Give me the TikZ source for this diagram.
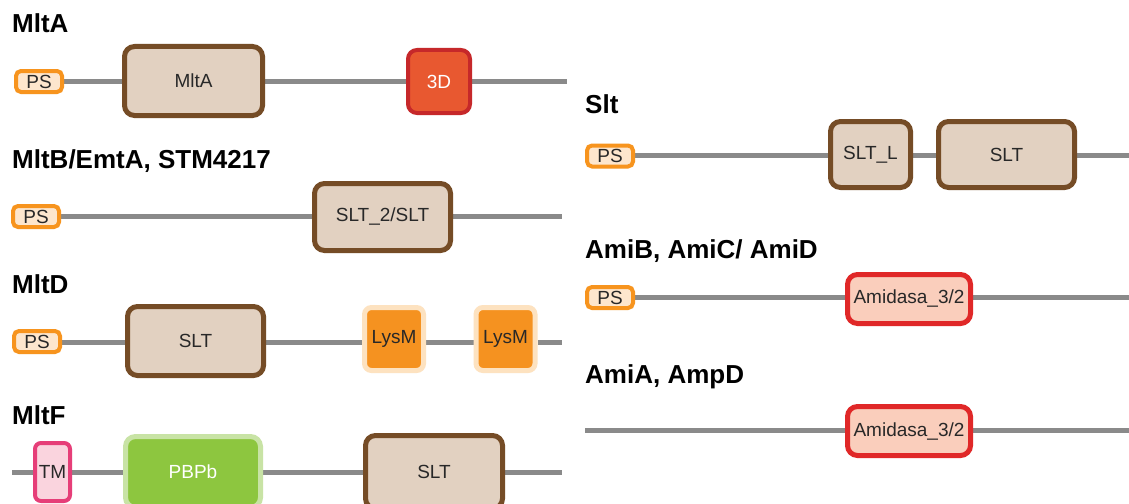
\documentclass[tikz,border=0pt]{standalone}
\usepackage{fontspec}
\setmainfont{Liberation Sans}
\usetikzlibrary{backgrounds}
\definecolor{chain}{RGB}{138,138,138}
\definecolor{psedge}{RGB}{247,148,30}
\definecolor{psfill}{RGB}{253,230,205}
\definecolor{sltedge}{RGB}{117,76,38}
\definecolor{sltfill}{RGB}{226,209,193}
\definecolor{tdfill}{RGB}{232,88,48}
\definecolor{tdedge}{RGB}{198,40,42}
\definecolor{lysfill}{RGB}{245,146,32}
\definecolor{lyshalo}{RGB}{253,226,192}
\definecolor{tmfill}{RGB}{250,212,222}
\definecolor{tmedge}{RGB}{230,62,120}
\definecolor{pbpfill}{RGB}{141,198,63}
\definecolor{pbpedge}{RGB}{200,227,165}
\definecolor{amifill}{RGB}{250,206,188}
\definecolor{amiedge}{RGB}{224,40,40}
\definecolor{labeltext}{RGB}{40,40,40}
\tikzset{
  dom/.style={rectangle, inner sep=0pt, align=center, text=labeltext,
    font=\fontsize{19}{21}\selectfont},
  psbox/.style={dom, draw=psedge, fill=psfill, line width=4pt, rounded corners=5pt,
    minimum width=46pt, minimum height=21pt},
  sltbox/.style={dom, draw=sltedge, fill=sltfill, line width=5pt, rounded corners=10pt},
  tdbox/.style={dom, draw=tdedge, fill=tdfill, line width=4pt, rounded corners=9pt, text=white},
  lysbox/.style={dom, draw=lyshalo, fill=lysfill, line width=5pt, rounded corners=7pt,
    minimum width=59pt, minimum height=63pt},
  tmbox/.style={dom, draw=tmedge, fill=tmfill, line width=4pt, rounded corners=6pt},
  pbpbox/.style={dom, draw=pbpedge, fill=pbpfill, line width=5pt, rounded corners=10pt, text=white},
  amibox/.style={dom, draw=amiedge, fill=amifill, line width=5pt, rounded corners=10pt,
    minimum width=123pt, minimum height=49pt},
  protname/.style={anchor=base west, inner sep=0pt, text=black,
    font=\fontsize{26}{28}\selectfont\bfseries},
  link/.style={draw=chain, line width=5pt}
}
\begin{document}
\begin{tikzpicture}[x=1pt, y=-1pt]
\useasboundingbox (0,0) rectangle (1129,503);
\clip (0,0) rectangle (1129,503);

% ---------- MltA ----------
\node[protname] (tA) at (12,33) {MltA};
\node[psbox] (psA) at (39,81.5) {PS};
\node[sltbox, minimum width=138pt, minimum height=69pt] (mltA) at (193.5,81) {MltA};
\node[tdbox, minimum width=62pt, minimum height=63pt] (tdA) at (439,81.5) {3D};
\coordinate (eA) at (567,81);

% ---------- MltB/EmtA ----------
\node[protname] (tB) at (12,168) {MltB/EmtA, STM4217};
\node[psbox] (psB) at (36,216.5) {PS};
\node[sltbox, minimum width=136pt, minimum height=67pt] (sltB) at (382.5,217) {SLT\_2/SLT};
\coordinate (eB) at (562,216);

% ---------- MltD ----------
\node[protname] (tD) at (12,293) {MltD};
\node[psbox] (psD) at (37,341.5) {PS};
\node[sltbox, minimum width=136pt, minimum height=69pt] (sltD) at (195.5,341) {SLT};
\node[lysbox] (lysD1) at (394,339) {LysM};
\node[lysbox] (lysD2) at (505.5,339) {LysM};
\coordinate (eD) at (562,342);

% ---------- MltF ----------
\node[protname] (tF) at (12,424) {MltF};
\coordinate (sF) at (12,472);
\node[tmbox, minimum width=35pt, minimum height=58pt] (tmF) at (52.5,472) {TM};
\node[pbpbox, minimum width=135pt, minimum height=71pt] (pbpF) at (193,472) {PBPb};
\node[sltbox, minimum width=137pt, minimum height=73pt] (sltF) at (434,472) {SLT};
\coordinate (eF) at (562,472);

% ---------- Slt ----------
\node[protname] (tS) at (585,113) {Slt};
\node[psbox] (psS) at (610,156) {PS};
\node[sltbox, minimum width=80pt, minimum height=66pt] (sltlS) at (870.5,154.5) {SLT\_L};
\node[sltbox, minimum width=136pt, minimum height=66pt] (sltS) at (1006.5,154.5) {SLT};
\coordinate (eS) at (1129,155);

% ---------- AmiB, AmiC/ AmiD ----------
\node[protname] (tB2) at (585,258) {AmiB, AmiC/ AmiD};
\node[psbox] (psB2) at (610,297.5) {PS};
\node[amibox] (amiB2) at (909,299) {Amidasa\_3/2};
\coordinate (eB2) at (1129,297);

% ---------- AmiA, AmpD ----------
\node[protname] (tA2) at (585,383) {AmiA, AmpD};
\coordinate (sA2) at (585,430);
\node[amibox] (amiA2) at (909,431) {Amidasa\_3/2};
\coordinate (eA2) at (1129,430);

% white page and backbone segments behind the domains
\begin{scope}[on background layer]
  \fill[white] (0,0) rectangle (1129,503);

  \draw[link] (psA.east |- eA) -- (mltA.west |- eA);
  \draw[link] (mltA.east |- eA) -- (tdA.west |- eA);
  \draw[link] (tdA.east |- eA) -- (eA);

  \draw[link] (psB.east |- eB) -- (sltB.west |- eB);
  \draw[link] (sltB.east |- eB) -- (eB);

  \draw[link] (psD.east |- eD) -- (sltD.west |- eD);
  \draw[link] (sltD.east |- eD) -- (lysD1.west |- eD);
  \draw[link] (lysD1.east |- eD) -- (lysD2.west |- eD);
  \draw[link] (lysD2.east |- eD) -- (eD);

  \draw[link] (sF) -- (tmF.west |- sF);
  \draw[link] (tmF.east |- sF) -- (pbpF.west |- sF);
  \draw[link] (pbpF.east |- sF) -- (sltF.west |- sF);
  \draw[link] (sltF.east |- sF) -- (eF);

  \draw[link] (psS.east |- eS) -- (sltlS.west |- eS);
  \draw[link] (sltlS.east |- eS) -- (sltS.west |- eS);
  \draw[link] (sltS.east |- eS) -- (eS);

  \draw[link] (psB2.east |- eB2) -- (amiB2.west |- eB2);
  \draw[link] (amiB2.east |- eB2) -- (eB2);

  \draw[link] (sA2) -- (amiA2.west |- sA2);
  \draw[link] (amiA2.east |- sA2) -- (eA2);
\end{scope}
\end{tikzpicture}
\end{document}
